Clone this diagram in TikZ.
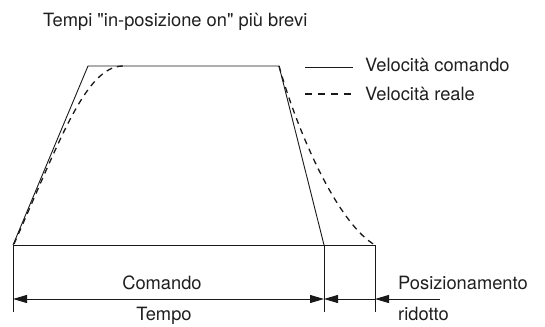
\documentclass[tikz,border=0pt]{standalone}
\usepackage{fontspec}
\setmainfont{TeX Gyre Heros}
\newfontfamily\plainhv{TeX Gyre Heros}
\newcommand\sq{{\plainhv\char34}}
\usetikzlibrary{arrows.meta}
\begin{document}
\begin{tikzpicture}[x=1pt,y=-1pt,
  lbl/.style={font=\fontsize{18.3}{22}\selectfont, inner sep=0pt, text=black!88},
  ln/.style={line width=0.9pt, draw=black!90},
  dsh/.style={line width=1.3pt, draw=black!90, dash pattern=on 6pt off 5pt},
  tri/.tip={Triangle[length=14pt,width=8pt]},
]
\useasboundingbox (0,0) rectangle (545,326);
% trapezoid corners
\coordinate (A) at (13,245);
\coordinate (B) at (88,66);
\coordinate (C) at (279,66);
\coordinate (D) at (324,245);
\coordinate (E) at (375,245);
% lower ends of the extension lines
\coordinate (Ab) at (13,312);
\coordinate (Db) at (324,312);
\coordinate (Eb) at (375,312);
% dimension line points
\coordinate (A1) at (13,299);
\coordinate (D1) at (324,299);
\coordinate (E1) at (375,299);
\coordinate (R1) at (440,299);
% command speed
\draw[ln] (A) -- (B) -- (C) -- (D);
% actual speed
\draw[dsh] (14,244) .. controls (60,140) and (86,66) .. (123,66);
\draw[dsh] (C) .. controls (300,140) and (340,225) .. (E);
% base line and extension lines
\draw[ln] (A) -- (E);
\draw[ln] (A) -- (Ab);
\draw[ln] (D) -- (Db);
\draw[ln] (E) -- (Eb);
% dimension arrows
\draw[ln, tri-tri] (A1) -- (D1);
\draw[ln, tri-] (D1) -- (E1);
\draw[ln, -tri] (R1) -- (E1);
% legend
\coordinate (L1a) at (305,67);
\coordinate (L1b) at (353,67);
\coordinate (L2a) at (305,94);
\coordinate (L2b) at (353,94);
\draw[ln] (L1a) -- (L1b);
\draw[line width=1.1pt, draw=black!90, dash pattern=on 7pt off 6pt] (L2a) -- (L2b);
\node[lbl, anchor=base west] (leg1) at (365,72) {Velocità comando};
\node[lbl, anchor=base west] (leg2) at (365,100) {Velocità reale};
% texts
\node[lbl, anchor=base west] (title) at (43,27) {Tempi \sq in-posizione on\sq{} più brevi};
\node[lbl, anchor=base] (cmd) at (162,289) {Comando};
\node[lbl, anchor=base] (tmp) at (164,320) {Tempo};
\node[lbl, anchor=base west] (pos) at (398,289) {Posizionamento};
\node[lbl, anchor=base west] (rid) at (398,320) {ridotto};
\end{tikzpicture}
\end{document}
